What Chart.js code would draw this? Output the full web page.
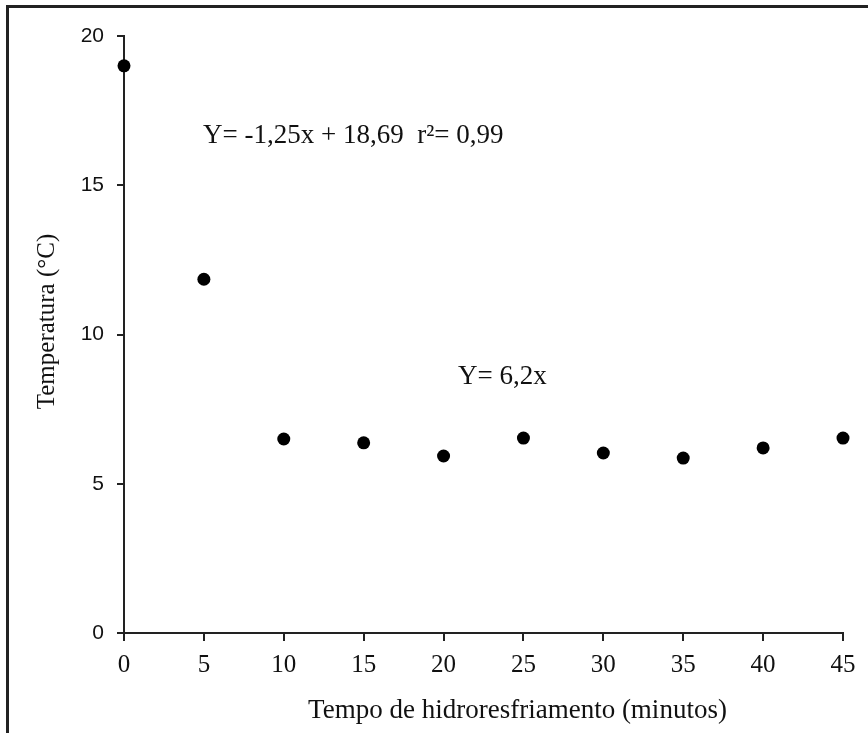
<!DOCTYPE html>
<html>
<head>
<meta charset="utf-8">
<script src="https://cdn.jsdelivr.net/npm/chart.js@4.4.1/dist/chart.umd.min.js"></script>
<style>
  body { margin: 0; background: #fff; }
  #wrap { position: relative; width: 868px; height: 733px; }
  #frame { position: absolute; left: 6px; top: 5px; right: 0; bottom: 0;
           border-top: 3px solid #222; border-left: 3px solid #222; }
  canvas { position: absolute; left: 0; top: 0; }
</style>
</head>
<body>
<div id="wrap">
  <div id="frame"></div>
  <canvas id="myChart" width="868" height="733"></canvas>
</div>
<script>
const minutes = [0, 5, 10, 15, 20, 25, 30, 35, 40, 45];
const temperature = [19.0, 11.85, 6.5, 6.37, 5.93, 6.53, 6.03, 5.86, 6.2, 6.53];
const xTicks = [0, 5, 10, 15, 20, 25, 30, 35, 40, 45];
const yTicks = [0, 5, 10, 15, 20];

const equations = [
  { text: 'Y= -1,25x + 18,69  r\u00B2= 0,99', x: 4.95, y: 16.42 },
  { text: 'Y= 6,2x', x: 20.9, y: 8.34 }
];
const xTitle = 'Tempo de hidroresfriamento (minutos)';
const yTitle = 'Temperatura (\u00B0C)';

const serifFont = 'Liberation Serif';
const sansFont = 'Liberation Sans';

// equations and axis titles, placed through the scales
const textPlugin = {
  id: 'texts',
  afterDraw(chart) {
    const ctx = chart.ctx;
    const xs = chart.scales.x;
    const ys = chart.scales.y;
    const area = chart.chartArea;
    ctx.save();
    ctx.fillStyle = '#111';
    ctx.font = '27px "' + serifFont + '"';
    ctx.textAlign = 'left';
    ctx.textBaseline = 'alphabetic';
    equations.forEach(e => {
      ctx.fillText(e.text, xs.getPixelForValue(e.x), ys.getPixelForValue(e.y));
    });

    ctx.textAlign = 'center';
    ctx.fillText(xTitle, (area.left + area.right) / 2 + 34, 718);

    ctx.translate(47, (area.top + area.bottom) / 2 - 13);
    ctx.rotate(-Math.PI / 2);
    ctx.textBaseline = 'middle';
    ctx.font = '25px "' + serifFont + '"';
    ctx.fillText(yTitle, 0, 0);
    ctx.restore();
  }
};

const ctx = document.getElementById('myChart');

new Chart(ctx, {
  type: 'scatter',
  data: {
    datasets: [{
      data: minutes.map((m, i) => ({ x: m, y: temperature[i] })),
      backgroundColor: '#000',
      borderWidth: 0,
      pointRadius: 6.5,
      pointHoverRadius: 6.5,
      clip: false
    }]
  },
  options: {
    responsive: false,
    animation: false,
    events: [],
    layout: { padding: { top: 36, right: 25, left: 0, bottom: 0 } },
    plugins: {
      legend: { display: false },
      tooltip: { enabled: false }
    },
    scales: {
      x: {
        type: 'linear',
        min: 0,
        max: 45,
        afterBuildTicks: (s) => { s.ticks = xTicks.map(v => ({ value: v })); },
        afterFit: (s) => { s.height = 100; },
        border: { display: true, color: '#222', width: 2 },
        grid: { drawOnChartArea: false, drawTicks: true, tickLength: 8, color: '#222', lineWidth: 2 },
        ticks: {
          color: '#111',
          padding: 9,
          maxRotation: 0,
          font: { family: serifFont, size: 25 }
        }
      },
      y: {
        type: 'linear',
        min: 0,
        max: 20,
        afterBuildTicks: (s) => { s.ticks = yTicks.map(v => ({ value: v })); },
        afterFit: (s) => { s.width = 124; },
        border: { display: true, color: '#222', width: 2 },
        grid: { drawOnChartArea: false, drawTicks: true, tickLength: 7, color: '#222', lineWidth: 2 },
        ticks: {
          color: '#111',
          padding: 13,
          font: { family: sansFont, size: 21 }
        }
      }
    }
  },
  plugins: [textPlugin]
});
</script>
</body>
</html>
